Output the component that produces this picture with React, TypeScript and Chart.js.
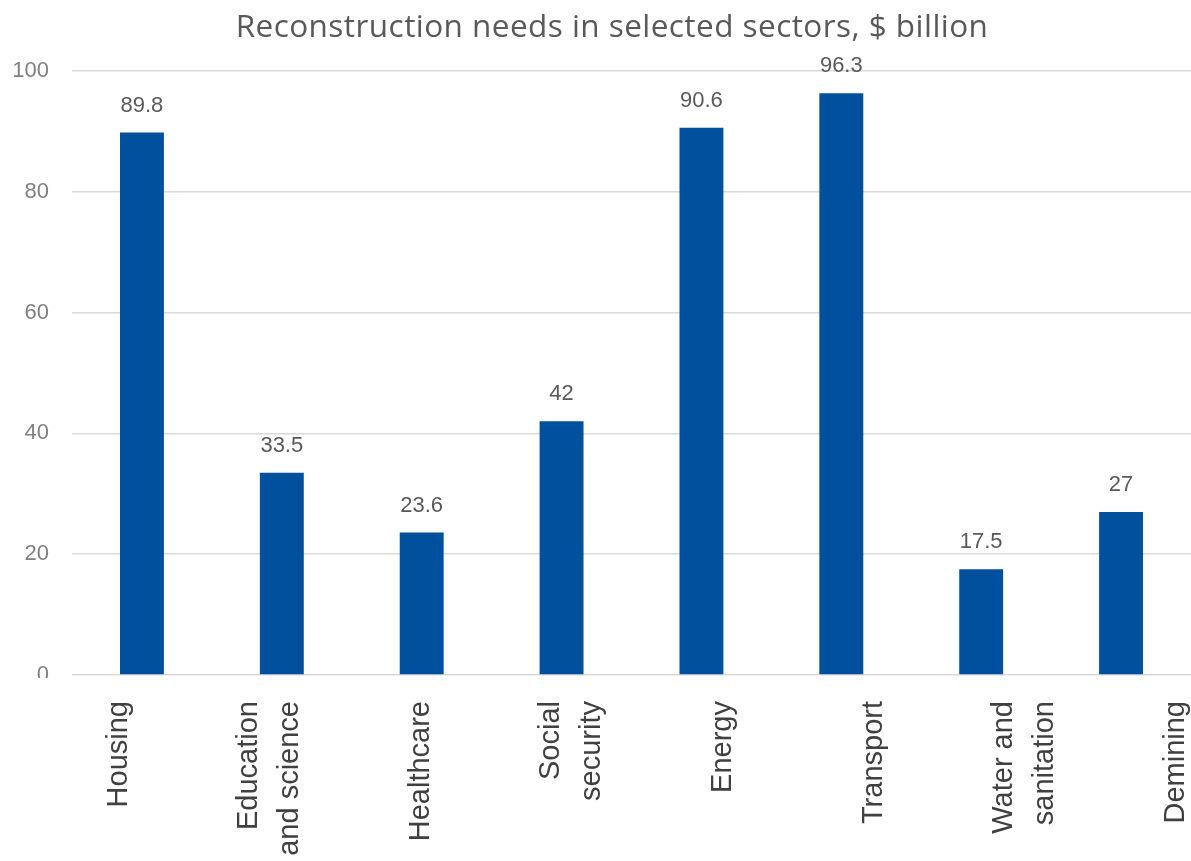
import React, { useEffect, useRef } from "react";
import { Chart, registerables } from "chart.js";

Chart.register(...registerables);

const sectors: string[][] = [
  ["Housing"],
  ["Education", "and science"],
  ["Healthcare"],
  ["Social", "security"],
  ["Energy"],
  ["Transport"],
  ["Water and", "sanitation"],
  ["Demining"],
];

const needs: number[] = [89.8, 33.5, 23.6, 42, 90.6, 96.3, 17.5, 27];

const yTicks: number[] = [0, 20, 40, 60, 80, 100];

const chartTitle = "Reconstruction needs in selected sectors, $ billion";

const BAR_COLOR = "#00509D";
const GRID_COLOR = "#D9D9D9";

// Draws the title, value labels above bars and the rotated sector names.
const annotations = {
  id: "annotations",
  afterDatasetsDraw(chart: any) {
    const { ctx, chartArea } = chart;
    ctx.save();

    // title
    ctx.fillStyle = "#595959";
    ctx.font = '31.5px "Open Sans", "Noto Sans", sans-serif';
    ctx.textAlign = "center";
    ctx.textBaseline = "alphabetic";
    (ctx as any).letterSpacing = "0.45px";
    ctx.fillText(chartTitle, 612, 37);
    (ctx as any).letterSpacing = "0px";

    // value labels
    const meta = chart.getDatasetMeta(0);
    ctx.textBaseline = "middle";
    ctx.font = '22px "Liberation Sans", Arial, sans-serif';
    ctx.fillStyle = "#595959";
    meta.data.forEach((bar: any, i: number) => {
      ctx.fillText(String(needs[i]), bar.x, bar.y - 27);
    });

    // the axis label band hides the lower half of the zero tick
    ctx.fillStyle = "#ffffff";
    ctx.fillRect(0, chartArea.bottom + 3, chartArea.left - 2, 24);

    // sector names, rotated to read bottom-to-top
    const mid = (chartArea.left + chartArea.right) / 2;
    ctx.font = '29px "Liberation Sans", Arial, sans-serif';
    ctx.fillStyle = "#404040";
    ctx.textAlign = "right";
    const lineH = 41;
    meta.data.forEach((bar: any, i: number) => {
      const lines = sectors[i];
      const cx = mid + 15.8 + (bar.x - mid) * 1.079;
      ctx.save();
      ctx.translate(cx, chartArea.bottom + 26);
      ctx.rotate(-Math.PI / 2);
      lines.forEach((line, j) => {
        ctx.fillText(line, 0, (j - (lines.length - 1) / 2) * lineH);
      });
      ctx.restore();
    });

    ctx.restore();
  },
};

export default function App() {
  const canvasRef = useRef<HTMLCanvasElement | null>(null);

  useEffect(() => {
    if (!canvasRef.current) return;
    const chart = new Chart(canvasRef.current, {
      type: "bar",
      data: {
        labels: sectors.map((s) => s.join(" ")),
        datasets: [
          {
            data: needs,
            backgroundColor: BAR_COLOR,
            barPercentage: 0.314,
            categoryPercentage: 1,
          },
        ],
      },
      options: {
        animation: false,
        responsive: false,
        maintainAspectRatio: false,
        layout: { padding: { top: 71, bottom: 178, left: 0, right: 0 } },
        plugins: {
          legend: { display: false },
          title: { display: false },
          tooltip: { enabled: false },
        },
        scales: {
          x: {
            grid: { display: false },
            border: { display: false },
            ticks: { display: false },
          },
          y: {
            min: 0,
            max: 100,
            afterFit(scale: any) {
              scale.width = 72;
            },
            afterBuildTicks(scale: any) {
              scale.ticks = yTicks.map((v) => ({ value: v }));
            },
            grid: { color: GRID_COLOR, lineWidth: 1.5, drawTicks: false },
            border: { display: false },
            ticks: {
              padding: 23,
              color: "#808080",
              font: { family: '"Liberation Sans", Arial, sans-serif', size: 22 },
            },
          },
        },
      },
      plugins: [annotations],
    });
    return () => chart.destroy();
  }, []);

  return (
    <div style={{ position: "fixed", left: 0, top: 0, width: 1191, height: 861, background: "#fff" }}>
      <canvas ref={canvasRef} width={1191} height={861} />
    </div>
  );
}
